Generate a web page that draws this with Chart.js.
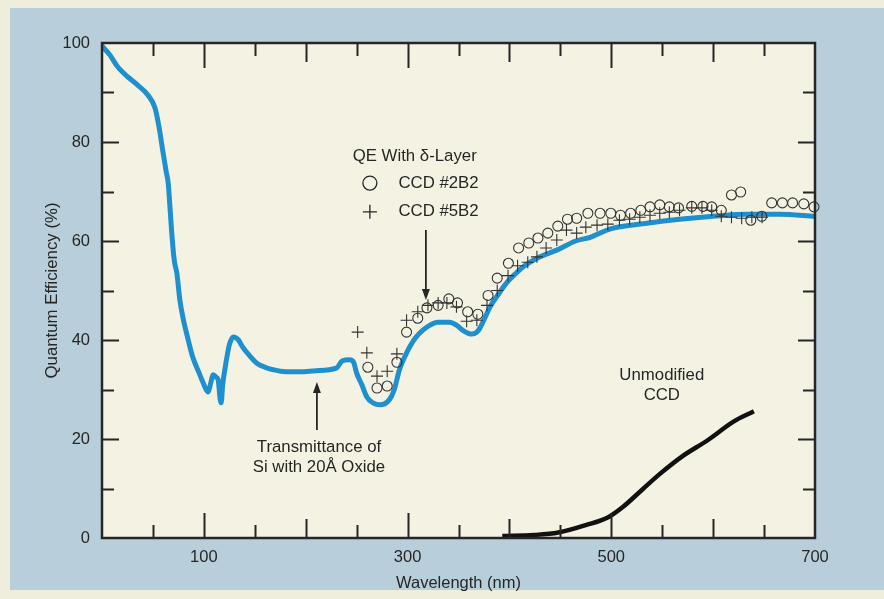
<!DOCTYPE html>
<html>
<head>
<meta charset="utf-8">
<script src="https://cdn.jsdelivr.net/npm/chart.js@4.4.1/dist/chart.umd.min.js"></script>
<style>
  html, body { margin: 0; padding: 0; background: #efeedd; }
  #wrap { width: 884px; height: 599px; }
</style>
</head>
<body>
<div id="wrap"><canvas id="qeChart" width="884" height="599"></canvas></div>
<script>
// transmittance of Si with 20A oxide (blue curve)
const transNm = [0, 8, 15, 25, 35, 45, 52, 56, 60, 63, 65, 67, 68.5, 71, 73.5, 76.5, 80, 83, 89, 95, 99, 104, 107, 109, 112, 114, 116, 117, 118.5, 121, 125, 129, 134, 138, 145, 152, 160, 168, 180, 194, 210, 230, 236, 243, 247, 250, 255, 260, 266, 273, 282, 287, 292, 297, 302, 308, 315, 322, 329, 341, 348, 354, 363, 368, 371, 376, 381, 390, 397, 405, 413, 430, 447, 465, 480, 500, 535, 567, 600, 633, 665, 700];
const transQE = [99.4, 97.5, 95.3, 93.2, 91.5, 89.5, 86.9, 83, 77.8, 74, 71.7, 66, 61.6, 56, 53.5, 48, 44, 41.4, 36.6, 33.5, 31.5, 29.5, 31.5, 33, 32.5, 32, 28, 27.3, 31, 34.5, 39, 40.6, 40, 38.6, 36.8, 35.3, 34.5, 34, 33.6, 33.6, 33.8, 34.3, 35.8, 36, 35.5, 33.3, 31, 28.5, 27.3, 26.9, 27.9, 30, 34, 36.5, 38.6, 40.5, 42, 43, 43.6, 43.6, 43, 42, 41.2, 41.6, 42.4, 44.5, 46.7, 49.5, 51.5, 53.2, 54.7, 56.8, 58.2, 60, 60.8, 62.5, 63.6, 64.4, 65, 65.4, 65.4, 65];

// unmodified CCD (black curve)
const ccdNm = [393, 424, 448, 475, 497, 511, 530, 548, 569, 595, 620, 640];
const ccdQE = [0.4, 0.6, 1.1, 2.6, 4.2, 6.2, 9.7, 13, 16.4, 19.8, 23.5, 25.6];

// CCD #2B2 (circles)
const b2Nm = [261, 270, 280, 289.5, 299, 310, 319, 330, 340.5, 349, 359, 369, 379, 388, 399, 409, 419, 428, 437.7, 447.5, 457, 466, 477, 489, 499.5, 509, 519, 529, 538, 547.6, 557, 566, 579, 590, 598.6, 608, 618, 627, 637, 647.7, 657.5, 668, 678, 689, 699];
const b2QE = [34.5, 30.3, 30.7, 35.5, 41.6, 44.4, 46.5, 47, 48.3, 47.5, 45.7, 45.2, 49, 52.5, 55.5, 58.6, 59.6, 60.6, 61.6, 63, 64.4, 64.6, 65.6, 65.6, 65.6, 65.2, 65.6, 66.2, 66.9, 67.3, 66.9, 66.7, 67, 67, 66.9, 66.2, 69.3, 69.9, 64.2, 65, 67.7, 67.7, 67.7, 67.5, 66.9];

// CCD #5B2 (crosses)
const b5Nm = [251, 260, 270, 280, 289.5, 299, 310, 320, 330, 338.6, 348, 358, 368, 378, 388, 398.6, 408, 418, 427, 436, 446.5, 456, 466, 475, 486, 496.6, 508, 518, 528, 538, 547.6, 557, 567, 579, 589, 598.6, 608, 618, 628, 638, 648];
const b5QE = [41.6, 37.4, 32.7, 33.7, 37.2, 44, 45.7, 47, 47.5, 47.5, 46.7, 43.8, 44, 47, 50, 53, 55, 55.7, 56.8, 58.6, 60.2, 62.2, 61.6, 62.8, 63.2, 63.4, 64.2, 64.4, 64.8, 65.2, 65.6, 65.8, 66.2, 66.7, 66.7, 66.2, 65, 64.8, 64.6, 64.8, 64.8];

const xLabels = [100, 300, 500, 700];
const yLabels = [0, 20, 40, 60, 80, 100];

const FONT = '"Liberation Sans", Arial, Helvetica, sans-serif';
const INK = '#262626';

function pts(xs, ys) {
    return xs.map((x, i) => ({ x: x, y: ys[i] }));
}

// draws background, frame, inward ticks, titles and annotations
const decor = {
    id: 'decor',
    beforeDraw(chart) {
        const c = chart.ctx, a = chart.chartArea;
        c.save();
        c.fillStyle = '#efeedd';
        c.fillRect(0, 0, chart.width, chart.height);
        c.fillStyle = '#b8cfdb';
        c.fillRect(10, 8, chart.width - 10, 582);
        c.fillStyle = '#f4f3e3';
        c.fillRect(a.left, a.top, a.right - a.left, a.bottom - a.top);
        c.restore();
    },
    afterDatasetsDraw(chart) {
        const c = chart.ctx, a = chart.chartArea;
        const xs = chart.scales.x, ys = chart.scales.y;
        c.save();
        c.strokeStyle = INK;
        c.lineWidth = 2;
        // ticks along x, top and bottom
        for (let v = 50; v < 700; v += 50) {
            const px = Math.round(xs.getPixelForValue(v)) + 0.5;
            let len = 13;
            if (v % 100 === 0) len = xLabels.includes(v) ? 25 : 19;
            c.beginPath();
            c.moveTo(px, a.bottom); c.lineTo(px, a.bottom - len);
            c.moveTo(px, a.top); c.lineTo(px, a.top + len);
            c.stroke();
        }
        // ticks along y, left and right
        for (let v = 10; v < 100; v += 10) {
            const py = Math.round(ys.getPixelForValue(v)) + 0.5;
            const len = v % 20 === 0 ? 17 : 12;
            c.beginPath();
            c.moveTo(a.left, py); c.lineTo(a.left + len, py);
            c.moveTo(a.right, py); c.lineTo(a.right - len, py);
            c.stroke();
        }
        c.lineWidth = 2.5;
        c.strokeRect(a.left, a.top, a.right - a.left, a.bottom - a.top);

        c.fillStyle = INK;
        c.font = '16.5px ' + FONT;
        c.textAlign = 'center';
        c.textBaseline = 'middle';
        c.fillText('Wavelength (nm)', (a.left + a.right) / 2, 583);
        c.save();
        c.translate(52, (a.top + a.bottom) / 2);
        c.rotate(-Math.PI / 2);
        c.font = '16.8px ' + FONT;
        c.fillText('Quantum Efficiency (%)', 0, 0);
        c.restore();

        const X = v => xs.getPixelForValue(v), Y = v => ys.getPixelForValue(v);

        // legend block
        c.font = '16.8px ' + FONT;
        c.fillText('QE With \u03b4-Layer', X(307), Y(77));
        c.textAlign = 'left';
        c.fillText('CCD #2B2', X(291), Y(71.7));
        c.fillText('CCD #5B2', X(291), Y(65.9));
        c.lineWidth = 1.3;
        c.beginPath();
        c.arc(X(263), Y(71.7), 7, 0, Math.PI * 2);
        c.stroke();
        c.beginPath();
        c.moveTo(X(263) - 7, Y(65.9)); c.lineTo(X(263) + 7, Y(65.9));
        c.moveTo(X(263), Y(65.9) - 7); c.lineTo(X(263), Y(65.9) + 7);
        c.stroke();

        // other labels
        c.textAlign = 'center';
        c.fillText('Transmittance of', X(213), Y(18.4));
        c.fillText('Si with 20\u00c5 Oxide', X(213), Y(14.3));
        c.fillText('Unmodified', X(549.6), Y(32.9));
        c.fillText('CCD', X(549.6), Y(28.9));

        // arrows
        function arrow(xv, y0, y1) {
            const px = X(xv), p0 = Y(y0), p1 = Y(y1);
            const dir = p1 > p0 ? 1 : -1;
            c.lineWidth = 1.8;
            c.beginPath();
            c.moveTo(px, p0); c.lineTo(px, p1 - dir * 8);
            c.stroke();
            c.beginPath();
            c.moveTo(px, p1);
            c.lineTo(px - 4, p1 - dir * 11);
            c.lineTo(px + 4, p1 - dir * 11);
            c.closePath();
            c.fill();
        }
        arrow(318, 62.2, 48.1);
        arrow(211, 21.8, 31.5);
        c.restore();
    }
};

const ctx = document.getElementById('qeChart').getContext('2d');
new Chart(ctx, {
    type: 'scatter',
    data: {
        datasets: [
            {
                label: 'Transmittance of Si with 20\u00c5 Oxide',
                data: pts(transNm, transQE),
                showLine: true,
                borderColor: '#1f90cd',
                borderWidth: 5,
                pointRadius: 0,
                cubicInterpolationMode: 'monotone',
                borderCapStyle: 'round',
                borderJoinStyle: 'round',
                order: 3
            },
            {
                label: 'Unmodified CCD',
                data: pts(ccdNm, ccdQE),
                showLine: true,
                borderColor: '#111',
                borderWidth: 4.5,
                pointRadius: 0,
                cubicInterpolationMode: 'monotone',
                order: 2
            },
            {
                label: 'CCD #2B2',
                data: pts(b2Nm, b2QE),
                pointStyle: 'circle',
                pointRadius: 5,
                borderColor: '#333',
                borderWidth: 1.1,
                backgroundColor: 'rgba(0,0,0,0)',
                clip: false,
                order: 1
            },
            {
                label: 'CCD #5B2',
                data: pts(b5Nm, b5QE),
                pointStyle: 'cross',
                pointRadius: 6,
                borderColor: '#333',
                borderWidth: 1.1,
                clip: false,
                order: 0
            }
        ]
    },
    options: {
        responsive: false,
        animation: false,
        layout: { padding: { top: 43, right: 69, left: 0, bottom: 0 } },
        plugins: { legend: { display: false }, tooltip: { enabled: false } },
        scales: {
            x: {
                type: 'linear',
                min: 0, max: 700,
                grid: { display: false, drawTicks: false },
                border: { display: false },
                ticks: {
                    stepSize: 100,
                    autoSkip: false,
                    maxRotation: 0,
                    padding: 10,
                    color: INK,
                    font: { family: FONT, size: 16.5 },
                    callback: v => xLabels.includes(v) ? String(v) : ''
                },
                afterFit(scale) { scale.height = 61; }
            },
            y: {
                min: 0, max: 100,
                grid: { display: false, drawTicks: false },
                border: { display: false },
                ticks: {
                    stepSize: 20,
                    padding: 12,
                    color: INK,
                    font: { family: FONT, size: 16.5 },
                    callback: v => yLabels.includes(v) ? String(v) : ''
                },
                afterFit(scale) { scale.width = 102; }
            }
        }
    },
    plugins: [decor]
});
</script>
</body>
</html>
